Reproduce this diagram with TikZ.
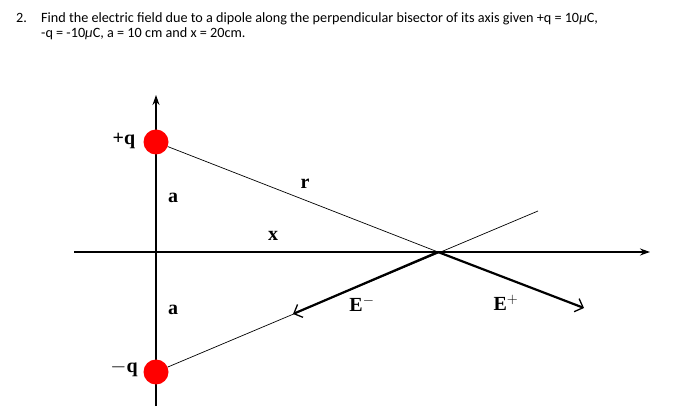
\documentclass[tikz,border=0pt]{standalone}
\usepackage{fontspec}
\setmainfont{Liberation Serif}
\newfontfamily\textsans{Carlito}
\usetikzlibrary{arrows.meta}
\begin{document}
\begin{tikzpicture}[x=1pt,y=1pt,
  axis/.style={line width=1.3pt,-{Stealth[length=10pt,width=7pt]}},
  thin/.style={line width=0.7pt},
  field/.style={line width=2.2pt,-{Straight Barb[length=7pt,width=14pt,line width=1.3pt]}},
  charge/.style={circle,fill=red,inner sep=0pt,minimum size=25pt},
  lbl/.style={font=\fontsize{20}{22}\selectfont\bfseries,inner sep=0pt},
  qtext/.style={font=\textsans\fontsize{14.2}{15}\selectfont,inner sep=0pt,anchor=base west}]
\useasboundingbox (0,0) rectangle (700,417);
% question text
\node[qtext] (num) at (16,394) {2.};
\node[qtext] (l1) at (41,394) {Find the electric field due to a dipole along the perpendicular bisector of its axis given +q = 10\textit{μ}C,};
\node[qtext] (l2) at (41,379) {-q = -10\textit{μ}C, a = 10 cm and x = 20cm.};
% axes
\coordinate (vb) at (156,11);
\coordinate (vt) at (156,322);
\coordinate (hl) at (74,165);
\coordinate (hr) at (650,165);
\draw[axis] (vb) -- (vt);
\draw[axis] (hl) -- (hr);
% charges
\node[charge] (pq) at (156,275) {};
\node[charge] (nq) at (156,45) {};
\coordinate (P) at (438,165);
\coordinate (ext) at (538,206);
\coordinate (ep) at (584,109);
\coordinate (em) at (293,103);
\draw[thin] (pq) -- (P);
\draw[thin] (nq) -- (ext);
\draw[field] (P) -- (ep);
\draw[field] (P) -- (em);
% labels
\node[lbl] (lpq) at (124,276) {+q};
\node[lbl] (lnq) at (124,48) {$\mathbf{-}$q};
\node[lbl] (la1) at (173,219) {a};
\node[lbl] (la2) at (173,107) {a};
\node[lbl] (lx) at (273,181) {x};
\node[lbl] (lr) at (305,233) {r};
\node[lbl] (lem) at (362,113) {E$^{\mathbf{-}}$};
\node[lbl] (lep) at (506,114) {E$^{\mathbf{+}}$};
\end{tikzpicture}
\end{document}
